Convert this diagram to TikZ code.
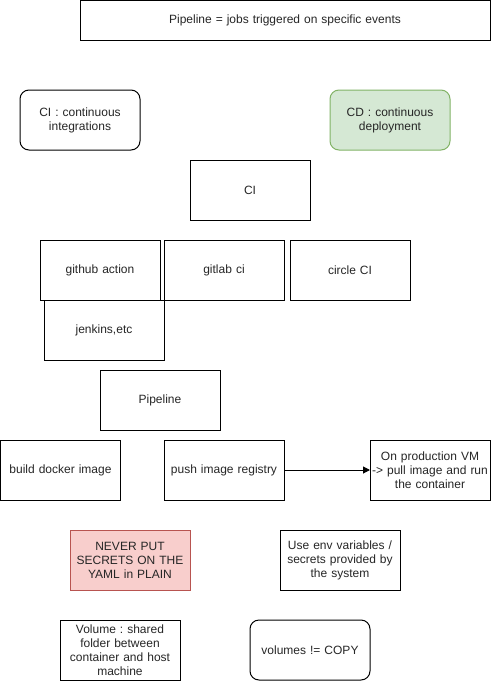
\documentclass[tikz,border=0pt]{standalone}
\usepackage{fontspec}
\setmainfont{Liberation Sans}
\usetikzlibrary{arrows.meta}
\definecolor{greenfill}{HTML}{D5E8D4}
\definecolor{greenline}{HTML}{82B366}
\definecolor{redfill}{HTML}{F8CECC}
\definecolor{redline}{HTML}{B85450}
\frenchspacing
\hyphenpenalty=10000
\exhyphenpenalty=10000
\tikzset{
  box/.style={draw=black, line width=1pt, anchor=north west, minimum width=120pt, minimum height=60pt,
    inner sep=0pt, outer sep=0pt, align=center, text width=118pt,
    font=\fontsize{12}{14}\selectfont, text=black!85},
  roundbox/.style={box, rounded corners=9pt},
  greenbox/.style={roundbox, fill=greenfill, draw=greenline},
  redbox/.style={box, fill=redfill, draw=redline},
  conn/.style={draw=black, line width=1pt, -{Triangle[length=7pt,width=7pt]}}
}
\begin{document}
\begin{tikzpicture}[x=1pt,y=-1pt]
\useasboundingbox (0,0) rectangle (491,681);
\fill[white] (0,0) rectangle (491,681);
\node[box, minimum width=410pt, minimum height=40pt, text width=400pt] (title) at (80,0.5) {Pipeline = jobs triggered on specific events};
\node[roundbox] (ci) at (20,90) {CI : continuous\\integrations};
\node[greenbox] (cd) at (330,90) {CD : continuous\\deployment};
\node[box] (cibox) at (190,160) {CI};
\node[box] (github) at (40,240) {github action};
\node[box] (gitlab) at (164,240) {gitlab ci};
\node[box] (circle) at (290,240) {circle CI};
\node[box] (jenkins) at (44,300) {jenkins,etc};
\node[box] (pipeline) at (100,370) {Pipeline};
\node[box] (build) at (0.5,440) {build docker image};
\node[box] (push) at (164,440) {push image registry};
\node[box] (prod) at (370,440) {On production VM\\-> pull image and run\\the container};
\node[redbox] (never) at (70,530) {NEVER PUT\\SECRETS ON THE\\YAML in PLAIN};
\node[box] (env) at (280,530) {Use env variables /\\secrets provided by\\the system};
\node[box] (volume) at (60,620) {Volume : shared\\folder between\\container and host\\machine};
\node[roundbox] (copy) at (250,620) {volumes != COPY};
\draw[conn] (push.east) -- (prod.west);
\end{tikzpicture}
\end{document}
